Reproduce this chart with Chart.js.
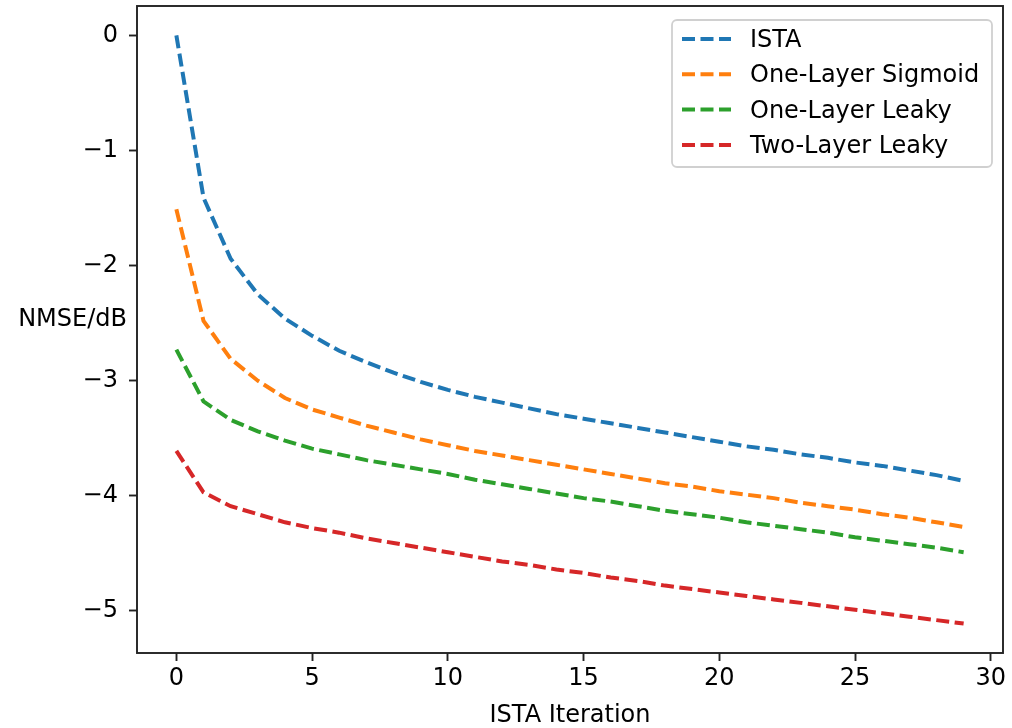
<!DOCTYPE html>
<html>
<head>
<meta charset="utf-8">
<script src="https://cdn.jsdelivr.net/npm/chart.js@4.4.0/dist/chart.umd.min.js"></script>
<style>
  html, body { margin: 0; padding: 0; background: #fff; }
  #wrap { width: 1012px; height: 728px; }
</style>
</head>
<body>
<div id="wrap"><canvas id="myChart" width="1012" height="728"></canvas></div>
<script>
// values (NMSE in dB per ISTA iteration)
const iterations = [0, 1, 2, 3, 4, 5, 6, 7, 8, 9, 10, 11, 12, 13, 14, 15, 16, 17, 18, 19, 20, 21, 22, 23, 24, 25, 26, 27, 28, 29];
const ista = [0, -1.41, -1.94, -2.25, -2.46, -2.61, -2.74, -2.84, -2.93, -3.01, -3.08, -3.14, -3.19, -3.24, -3.29, -3.33, -3.37, -3.41, -3.45, -3.49, -3.53, -3.57, -3.60, -3.64, -3.67, -3.71, -3.74, -3.78, -3.82, -3.87];
const oneSigmoid = [-1.51, -2.48, -2.81, -3.00, -3.15, -3.25, -3.32, -3.39, -3.45, -3.51, -3.56, -3.61, -3.65, -3.69, -3.73, -3.77, -3.81, -3.85, -3.89, -3.92, -3.96, -3.99, -4.02, -4.06, -4.09, -4.12, -4.16, -4.19, -4.23, -4.27];
const oneLeaky = [-2.73, -3.18, -3.34, -3.44, -3.52, -3.59, -3.64, -3.69, -3.73, -3.77, -3.81, -3.86, -3.90, -3.94, -3.98, -4.02, -4.05, -4.09, -4.13, -4.16, -4.19, -4.23, -4.26, -4.29, -4.32, -4.36, -4.39, -4.42, -4.45, -4.49];
const twoLeaky = [-3.61, -3.97, -4.09, -4.16, -4.23, -4.28, -4.32, -4.37, -4.41, -4.45, -4.49, -4.53, -4.57, -4.60, -4.64, -4.67, -4.71, -4.74, -4.78, -4.81, -4.84, -4.87, -4.90, -4.93, -4.96, -4.99, -5.02, -5.05, -5.08, -5.11];

const seriesNames = ['ISTA', 'One-Layer Sigmoid', 'One-Layer Leaky', 'Two-Layer Leaky'];
const seriesColors = ['#1f77b4', '#ff7f0e', '#2ca02c', '#d62728'];
const xTicks = [0, 5, 10, 15, 20, 25, 30];
const yTicks = [0, -1, -2, -3, -4, -5];

const FONT = '"DejaVu Sans", sans-serif';
const allSeries = [ista, oneSigmoid, oneLeaky, twoLeaky];

function minus(v) {
  return String(v).replace('-', '\u2212');
}

const frameAndText = {
  id: 'frameAndText',
  afterDatasetsDraw(chart) {
    const ctx = chart.ctx;
    const a = chart.chartArea;
    ctx.save();
    // axes box
    ctx.strokeStyle = '#222';
    ctx.lineWidth = 1.9;
    ctx.strokeRect(a.left, a.top, a.right - a.left, a.bottom - a.top);

    // axis labels
    ctx.fillStyle = '#000';
    ctx.font = '24px ' + FONT;
    ctx.textAlign = 'center';
    ctx.textBaseline = 'alphabetic';
    ctx.fillText('ISTA Iteration', (a.left + a.right) / 2, 722);
    ctx.textAlign = 'right';
    ctx.fillText('NMSE/dB', 127, 326);

    // legend
    const lx = 672, ly = 20, lw = 320, lh = 147;
    ctx.beginPath();
    ctx.roundRect(lx, ly, lw, lh, 5);
    ctx.fillStyle = 'rgba(255,255,255,0.8)';
    ctx.fill();
    ctx.strokeStyle = '#d0d0d0';
    ctx.lineWidth = 1.8;
    ctx.stroke();
    chart.data.datasets.forEach(function(ds, i) {
      const base = 47 + i * 35.3;
      ctx.beginPath();
      ctx.setLineDash([13, 5.5]);
      ctx.lineWidth = 4;
      ctx.strokeStyle = ds.borderColor;
      ctx.moveTo(682, base - 8);
      ctx.lineTo(731, base - 8);
      ctx.stroke();
      ctx.setLineDash([]);
      ctx.fillStyle = '#000';
      ctx.textAlign = 'left';
      ctx.fillText(ds.label, 750, base);
    });
    ctx.restore();
  }
};

const datasets = allSeries.map(function(values, i) {
  return {
    label: seriesNames[i],
    data: iterations.map(function(x, j) { return { x: x, y: values[j] }; }),
    borderColor: seriesColors[i],
    backgroundColor: seriesColors[i],
    borderWidth: 4,
    borderDash: [13, 5.5],
    borderCapStyle: 'butt',
    pointRadius: 0,
    tension: 0,
    fill: false
  };
});

new Chart(document.getElementById('myChart'), {
  type: 'line',
  data: { datasets: datasets },
  options: {
    responsive: false,
    animation: false,
    layout: { padding: { left: 0, right: 9, top: 6, bottom: 0 } },
    plugins: {
      legend: { display: false },
      tooltip: { enabled: false }
    },
    scales: {
      x: {
        type: 'linear',
        min: -1.45,
        max: 30.45,
        afterBuildTicks: function(axis) {
          axis.ticks = xTicks.map(function(v) { return { value: v }; });
        },
        afterFit: function(scale) {
          scale.height = 75;
          scale.paddingLeft = 0;
          scale.paddingRight = 0;
        },
        border: { display: false },
        grid: { drawOnChartArea: false, drawTicks: true, tickLength: 8, tickWidth: 1.9, tickColor: '#222' },
        ticks: {
          color: '#000',
          padding: 3,
          maxRotation: 0,
          font: { family: FONT, size: 24 },
          callback: function(v) { return minus(v); }
        }
      },
      y: {
        type: 'linear',
        min: -5.3655,
        max: 0.2555,
        afterBuildTicks: function(axis) {
          axis.ticks = yTicks.map(function(v) { return { value: v }; });
        },
        afterFit: function(scale) {
          scale.width = 137;
          scale.paddingTop = 0;
          scale.paddingBottom = 0;
        },
        border: { display: false },
        grid: { drawOnChartArea: false, drawTicks: true, tickLength: 8, tickWidth: 1.9, tickColor: '#222' },
        ticks: {
          color: '#000',
          padding: 11,
          font: { family: FONT, size: 24 },
          callback: function(v) { return minus(v); }
        }
      }
    }
  },
  plugins: [frameAndText]
});
</script>
</body>
</html>
